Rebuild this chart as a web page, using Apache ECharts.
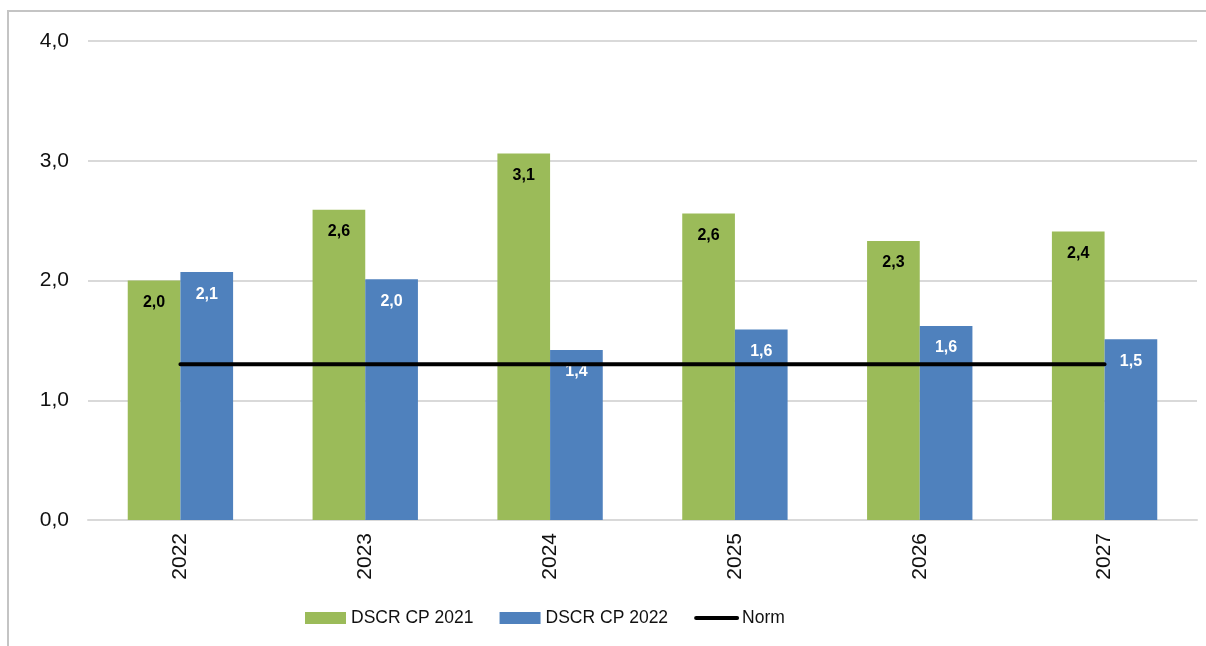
<!DOCTYPE html>
<html>
<head>
<meta charset="utf-8">
<script src="https://cdn.jsdelivr.net/npm/echarts@6/dist/echarts.min.js"></script>
<style>
  html, body { margin: 0; padding: 0; background: #fff; }
  #main { position: absolute; left: 0; top: 0; width: 1206px; height: 646px; }
  #frame { position: absolute; left: 7px; top: 10px; width: 1220px; height: 660px;
           border-left: 2px solid #c4c4c4; border-top: 2px solid #c4c4c4; pointer-events: none; }
</style>
</head>
<body>
<div id="main"></div>
<div id="frame"></div>
<script>
// data
var years = ['2022', '2023', '2024', '2025', '2026', '2027'];
var dscr2021 = [2.0, 2.59, 3.06, 2.56, 2.33, 2.41];
var dscr2022 = [2.07, 2.01, 1.42, 1.59, 1.62, 1.51];
var norm = [1.3, 1.3, 1.3, 1.3, 1.3, 1.3];

var fmt = function (v) { return v.toFixed(1).replace('.', ','); };

var myChart = echarts.init(document.getElementById('main'));
var option = {
    animation: false,
    textStyle: { fontFamily: 'Liberation Sans, Arial, sans-serif' },
    grid: { left: 88, right: 9, top: 41, bottom: 126 },
    legend: {
        left: 300,
        top: 604,
        itemWidth: 41,
        itemHeight: 12,
        itemGap: 26,
        textStyle: { fontSize: 17.5, color: '#111' },
        data: [
            { name: 'DSCR CP 2021', icon: 'rect' },
            { name: 'DSCR CP 2022', icon: 'rect' },
            { name: 'Norm', itemStyle: { opacity: 0 }, lineStyle: { width: 4, color: '#000' } }
        ]
    },
    xAxis: {
        type: 'category',
        data: years,
        axisLine: { lineStyle: { color: '#d9d9d9', width: 2 } },
        axisTick: { show: false },
        axisLabel: { rotate: 90, fontSize: 21, color: '#111', margin: 13 }
    },
    yAxis: {
        type: 'value',
        min: 0,
        max: 4,
        interval: 1,
        axisLine: { show: false },
        axisTick: { show: false },
        splitLine: { lineStyle: { color: '#d9d9d9', width: 2 } },
        axisLabel: {
            fontSize: 21, color: '#111', margin: 19,
            formatter: function (v) { return fmt(v); }
        }
    },
    series: [
        {
            name: 'DSCR CP 2021',
            type: 'bar',
            data: dscr2021,
            barGap: 0,
            barCategoryGap: '43%',
            itemStyle: { color: '#9bbb59' },
            label: {
                show: true, position: 'insideTop', distance: 14,
                fontSize: 16, fontWeight: 'bold', color: '#000',
                formatter: function (p) { return fmt(p.value); }
            }
        },
        {
            name: 'DSCR CP 2022',
            type: 'bar',
            data: dscr2022,
            itemStyle: { color: '#4f81bd' },
            label: {
                show: true, position: 'insideTop', distance: 14,
                fontSize: 16, fontWeight: 'bold', color: '#fff',
                formatter: function (p) { return fmt(p.value); }
            }
        },
        {
            name: 'Norm',
            type: 'line',
            data: norm,
            symbol: 'none',
            z: 5,
            lineStyle: { color: '#000', width: 4, cap: 'round' },
            itemStyle: { color: '#000' }
        }
    ]
};
myChart.setOption(option);
</script>
</body>
</html>
